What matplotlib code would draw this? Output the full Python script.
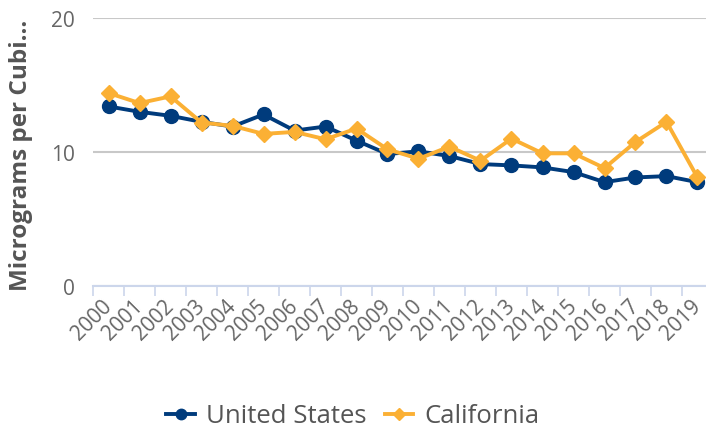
import matplotlib
matplotlib.use("Agg")
import matplotlib.pyplot as plt
from matplotlib.transforms import ScaledTranslation

# Data
years = [str(y) for y in range(2000, 2020)]
united_states = [13.4, 13.0, 12.7, 12.25, 11.9, 12.8, 11.6, 11.9, 10.85, 9.85,
                 10.05, 9.7, 9.1, 9.0, 8.85, 8.5, 7.75, 8.1, 8.2, 7.75]
california = [14.4, 13.65, 14.15, 12.2, 11.95, 11.35, 11.5, 10.95, 11.75, 10.2,
              9.5, 10.4, 9.35, 11.0, 9.9, 9.9, 8.8, 10.75, 12.25, 8.1]

navy = "#003b7c"
orange = "#fbb034"
text_color = "#666666"

plt.rcParams["font.family"] = ["Open Sans", "DejaVu Sans"]

fig = plt.figure(figsize=(7.06, 4.31), dpi=100)
# plot area runs slightly past the right edge, as in the reference
ax = fig.add_axes([93 / 706, 1 - 287 / 431, 620 / 706, 268 / 431])

x = list(range(len(years)))
ax.plot(x, united_states, color=navy, lw=2.8, marker="o", ms=10,
        label="United States", zorder=3)
ax.plot(x, california, color=orange, lw=2.8, marker="D", ms=8.5,
        label="California", zorder=4)

ax.set_xlim(-0.5, len(years) - 0.5)
ax.set_ylim(0, 20)
ax.set_yticks([0, 10, 20])
ax.grid(axis="y", color="#c8c8c8", lw=1.5)
ax.set_axisbelow(True)

# category axis: labels on the categories, tick marks between them
ax.set_xticks(x)
ax.set_xticklabels(years, rotation=45, ha="right", va="center",
                   rotation_mode="anchor", fontsize=15, color=text_color)
shift = ScaledTranslation(-4 / 100, 0, fig.dpi_scale_trans)
for lab in ax.get_xticklabels():
    lab.set_transform(lab.get_transform() + shift)
ax.set_xticks([i - 0.5 for i in x], minor=True)
ax.tick_params(axis="x", which="major", length=0, pad=12)
ax.tick_params(axis="x", which="minor", length=7, color="#ccd6eb", width=1.2)
ax.tick_params(axis="y", length=0, labelsize=15, labelcolor=text_color, pad=13)

for side in ["top", "right", "left"]:
    ax.spines[side].set_visible(False)
ax.spines["bottom"].set_color("#ccd6eb")
ax.spines["bottom"].set_linewidth(1.5)

ax.set_ylabel("Micrograms per Cubi...", fontsize=17.5, fontweight="bold",
              color="#555555")
ax.yaxis.set_label_coords(-0.097, 0.49)

fig.legend(loc="center", bbox_to_anchor=(0.5, 1 - 417 / 431), ncol=2,
           frameon=False, fontsize=18.5, labelcolor="#555555",
           handlelength=1.1, columnspacing=0.7, handletextpad=0.45,
           markerscale=0.75)

fig.savefig("out.png", dpi=100)
